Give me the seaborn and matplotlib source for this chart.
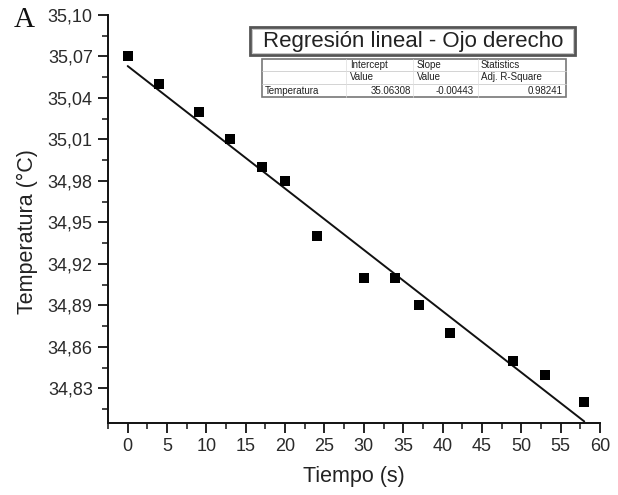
import numpy as np
import pandas as pd
import matplotlib
matplotlib.use("Agg")
import matplotlib.pyplot as plt
import seaborn as sns
from matplotlib.patches import Rectangle
from matplotlib.lines import Line2D
from matplotlib.ticker import MultipleLocator, FuncFormatter

# ---- data ----
tiempo = [0, 4, 9, 13, 17, 20, 24, 30, 34, 37, 41, 49, 53, 58]
temperatura = [35.07, 35.05, 35.03, 35.01, 34.99, 34.98, 34.94, 34.91, 34.91,
               34.89, 34.87, 34.85, 34.84, 34.82]
intercept = 35.06308
slope = -0.00443
adj_r2 = 0.98241
fit_x = [0, 58]

df = pd.DataFrame({"Tiempo": tiempo, "Temperatura": temperatura})
fit_df = pd.DataFrame({"Tiempo": fit_x,
                       "Temperatura": [intercept + slope * x for x in fit_x]})

sns.set_style("white")
plt.rcParams["font.family"] = ["Liberation Sans", "DejaVu Sans"]

W, H = 618, 495
fig = plt.figure(figsize=(W / 100, H / 100), dpi=100)
ax = fig.add_axes([108 / W, 1 - 423 / H, (600 - 108) / W, (423 - 15) / H])

sns.lineplot(data=fit_df, x="Tiempo", y="Temperatura", ax=ax, color="#111111",
             linewidth=1.4)
sns.scatterplot(data=df, x="Tiempo", y="Temperatura", ax=ax, marker="s",
                color="black", s=60, edgecolor="black", linewidth=0, zorder=5)

ax.set_xlim(-2.5, 60)
ax.set_ylim(34.805, 35.10)
ax.xaxis.set_major_locator(MultipleLocator(5))
ax.xaxis.set_minor_locator(MultipleLocator(2.5))
ax.yaxis.set_major_locator(MultipleLocator(0.03))
ax.yaxis.set_minor_locator(MultipleLocator(0.015))
ax.yaxis.set_major_formatter(FuncFormatter(lambda v, p: f"{v:.2f}".replace(".", ",")))
ax.xaxis.set_major_formatter(FuncFormatter(lambda v, p: f"{v:.0f}"))

for s in ["top", "right"]:
    ax.spines[s].set_visible(False)
for s in ["left", "bottom"]:
    ax.spines[s].set_color("#111111")
    ax.spines[s].set_linewidth(1.4)

ax.tick_params(which="major", direction="out", length=7, width=1.3,
               color="#111111", labelsize=13, labelcolor="#2a2a2a", pad=4,
               left=True, bottom=True)
ax.tick_params(which="minor", direction="out", length=4, width=1.1,
               color="#111111", left=True, bottom=True)

ax.set_xlabel("Tiempo (s)", fontsize=15.5, color="#222222")
ax.set_ylabel("Temperatura (°C)", fontsize=15.5, color="#222222")
ax.xaxis.set_label_coords(0.5, -0.105)
ax.yaxis.set_label_coords(-0.142, 0.468)

# panel letter
fig.text(14 / W, 1 - 20 / H, "A", fontsize=21, family="Liberation Serif",
         va="center", ha="left", color="#111111")

def fx(px):
    return px / W

def fy(py):
    return 1 - py / H

# title box
fig.add_artist(Rectangle((fx(250), fy(55)), fx(575) - fx(250), fy(27) - fy(55),
                         transform=fig.transFigure, facecolor="white",
                         edgecolor="#555555", linewidth=2.0, zorder=10))
fig.add_artist(Rectangle((fx(252), fy(53)), fx(573) - fx(252), fy(29) - fy(53),
                         transform=fig.transFigure, facecolor="none",
                         edgecolor="#bbbbbb", linewidth=0.6, zorder=11))
fig.text(fx(413), fy(41), "Regresión lineal - Ojo derecho", fontsize=16,
         ha="center", va="center", color="#222222", zorder=12)

# stats table
fig.add_artist(Rectangle((fx(262), fy(97)), fx(566) - fx(262), fy(59) - fy(97),
                         transform=fig.transFigure, facecolor="white",
                         edgecolor="#777777", linewidth=1.2, zorder=10))
for yy in [71, 84]:
    fig.add_artist(Line2D([fx(262), fx(566)], [fy(yy), fy(yy)],
                          transform=fig.transFigure, color="#cccccc",
                          linewidth=0.6, zorder=11))
for xx in [346, 413, 478]:
    fig.add_artist(Line2D([fx(xx), fx(xx)], [fy(59), fy(97)],
                          transform=fig.transFigure, color="#dddddd",
                          linewidth=0.5, zorder=11))

tfs = 7.0
tc = "#222222"
headers1 = ["Intercept", "Slope", "Statistics"]
headers2 = ["Value", "Value", "Adj. R-Square"]
vals = [f"{intercept:.5f}", f"{slope:.5f}", f"{adj_r2:.5f}"]
lefts = [350, 417, 481]
rights = [411, 474, 563]
for h1, h2, v, l, r in zip(headers1, headers2, vals, lefts, rights):
    fig.text(fx(l), fy(65), h1, fontsize=tfs, ha="left", va="center", color=tc, zorder=12)
    fig.text(fx(l), fy(77.5), h2, fontsize=tfs, ha="left", va="center", color=tc, zorder=12)
    fig.text(fx(r), fy(90.5), v, fontsize=tfs, ha="right", va="center", color=tc, zorder=12)
fig.text(fx(265), fy(90.5), "Temperatura", fontsize=tfs, ha="left", va="center",
         color=tc, zorder=12)

fig.savefig("out.png", dpi=100, facecolor="white")
